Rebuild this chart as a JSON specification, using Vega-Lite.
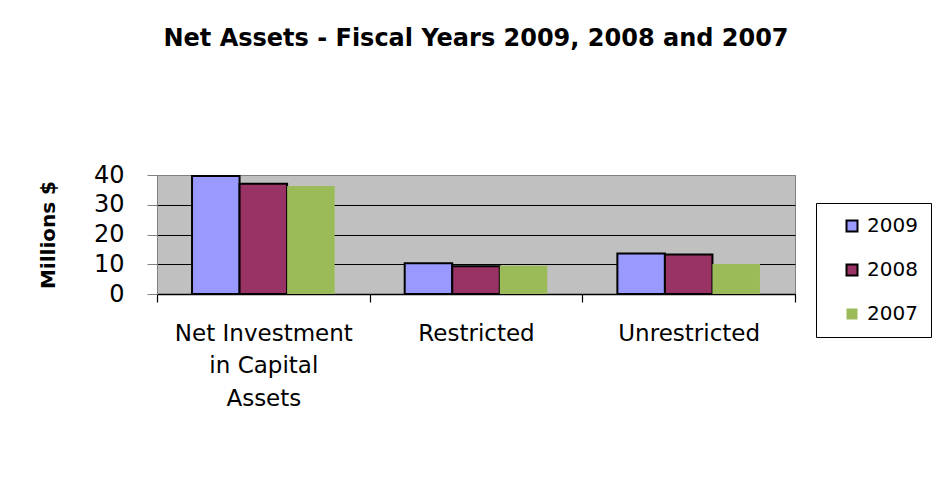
{
  "$schema": "https://vega.github.io/schema/vega-lite/v6.json",
  "width": 638,
  "height": 119,
  "autosize": "none",
  "padding": {"left": 157, "top": 175, "right": 156, "bottom": 197},
  "background": "white",
  "title": {
    "text": "Net Assets - Fiscal Years 2009, 2008 and 2007",
    "font": "DejaVu Sans",
    "fontSize": 24,
    "fontWeight": "bold",
    "color": "black",
    "anchor": "middle",
    "frame": "group",
    "offset": 112
  },
  "data": {
    "values": [
      {"category": "Net Investment in Capital Assets", "year": "2009", "value": 39.7},
      {"category": "Net Investment in Capital Assets", "year": "2008", "value": 37.1},
      {"category": "Net Investment in Capital Assets", "year": "2007", "value": 36.3},
      {"category": "Restricted", "year": "2009", "value": 10.3},
      {"category": "Restricted", "year": "2008", "value": 9.3},
      {"category": "Restricted", "year": "2007", "value": 9.5},
      {"category": "Unrestricted", "year": "2009", "value": 13.6},
      {"category": "Unrestricted", "year": "2008", "value": 13.3},
      {"category": "Unrestricted", "year": "2007", "value": 10.1}
    ]
  },
  "mark": {"type": "bar", "strokeWidth": 2},
  "encoding": {
    "x": {
      "field": "category",
      "type": "nominal",
      "sort": ["Net Investment in Capital Assets", "Restricted", "Unrestricted"],
      "scale": {"paddingInner": 0, "paddingOuter": 0},
      "axis": {
        "title": null,
        "labelAngle": 0,
        "labelFont": "DejaVu Sans",
        "labelFontSize": 23,
        "labelColor": "black",
        "labelPadding": 20,
        "labelLineHeight": 32.5,
        "labelLimit": 400,
        "labelExpr": "datum.value == 'Net Investment in Capital Assets' ? ['Net Investment', 'in Capital', 'Assets'] : datum.value",
        "tickBand": "extent",
        "tickExtra": true,
        "tickSize": 8,
        "tickColor": "black",
        "tickWidth": 1.2,
        "domainColor": "black",
        "domainWidth": 1.5
      }
    },
    "xOffset": {
      "field": "year",
      "type": "nominal",
      "sort": ["2009", "2008", "2007"],
      "scale": {"paddingInner": 0, "paddingOuter": 0.737}
    },
    "y": {
      "field": "value",
      "type": "quantitative",
      "scale": {"domain": [0, 40], "nice": false},
      "axis": {
        "title": "Millions $",
        "titleFont": "DejaVu Sans",
        "titleFontSize": 20,
        "titleFontWeight": "bold",
        "titleColor": "black",
        "titlePadding": 35,
        "values": [0, 10, 20, 30, 40],
        "labelFont": "DejaVu Sans",
        "labelFontSize": 24,
        "labelColor": "black",
        "labelPadding": 23,
        "tickSize": 10,
        "tickColor": "#808080",
        "domainColor": "#808080",
        "grid": true,
        "gridColor": {"condition": {"test": "datum.value == 40", "value": "#808080"}, "value": "black"},
        "gridWidth": 1.2
      }
    },
    "color": {
      "field": "year",
      "type": "nominal",
      "sort": ["2009", "2008", "2007"],
      "scale": {"domain": ["2009", "2008", "2007"], "range": ["#9999FF", "#993366", "#9BBB59"]},
      "legend": {
        "title": null,
        "orient": "none",
        "legendX": 659,
        "legendY": 28,
        "padding": 13,
        "rowPadding": 24,
        "symbolOffset": 13,
        "symbolType": "square",
        "symbolSize": 121,
        "symbolStrokeWidth": 2,
        "labelFont": "DejaVu Sans",
        "labelFontSize": 20,
        "labelColor": "black",
        "labelOffset": 5,
        "strokeColor": "black",
        "fillColor": "white"
      }
    },
    "stroke": {
      "field": "year",
      "type": "nominal",
      "sort": ["2009", "2008", "2007"],
      "scale": {"domain": ["2009", "2008", "2007"], "range": ["black", "black", "transparent"]}
    }
  },
  "config": {
    "view": {"fill": "#C0C0C0", "stroke": "#808080", "strokeWidth": 1}
  }
}
